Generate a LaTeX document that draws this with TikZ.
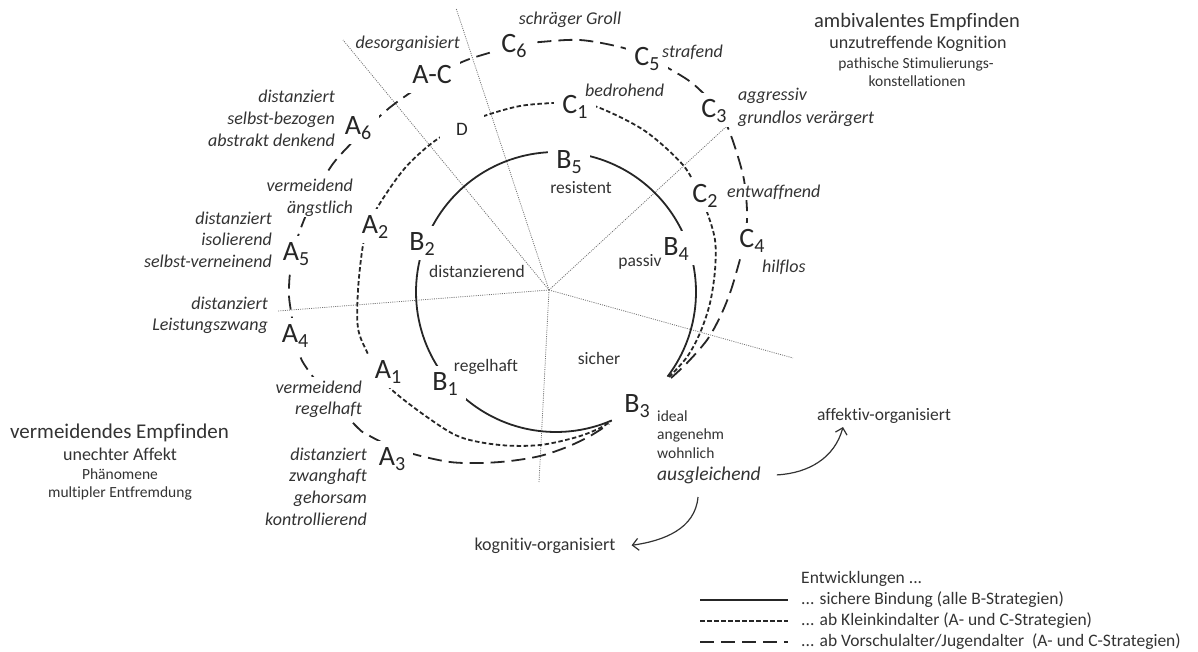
\documentclass[tikz,border=0pt]{standalone}
\usepackage{fontspec}
\setmainfont{Carlito}[Ligatures=NoCommon]
\usetikzlibrary{arrows.meta}
\newcommand{\lsub}[1]{\raisebox{-5pt}{\fontsize{20}{20}\selectfont #1}}
\begin{document}
\begin{tikzpicture}[x=1pt,y=-1pt,
  big/.style={font=\fontsize{28}{30}\selectfont, fill=white, inner xsep=8pt, inner ysep=3pt, text height=21pt, text depth=7pt, anchor=base, text=black!85},
  itl/.style={font=\fontsize{18}{21.7}\selectfont\itshape, fill=white, inner sep=1pt, text=black!80},
  itr/.style={itl, align=right, anchor=north east},
  lbl/.style={font=\fontsize{17.5}{21}\selectfont, fill=white, inner sep=1pt, text=black!80},
  head/.style={fill=white, inner sep=1pt, text=black!80, anchor=base},
  leg/.style={font=\fontsize{17.5}{21}\selectfont, inner sep=0pt, text=black!80, anchor=base west},
  ray/.style={black!55, line width=0.8pt, dash pattern=on 1pt off 1.2pt},
  solidB/.style={line width=1.8pt, black!85},
  shortD/.style={line width=1.8pt, black!85, dash pattern=on 4.5pt off 2.5pt},
  longD/.style={line width=1.8pt, black!85, dash pattern=on 14pt off 7pt},
  arr/.style={line width=1.2pt, black!80, -{Straight Barb[length=6pt,width=12pt]}},
]
\useasboundingbox (0,0) rectangle (1198,651);

% rays
\coordinate (O) at (549,290);
\coordinate (r1) at (343,40);
\coordinate (r2) at (456,8);
\coordinate (r3) at (728,125);
\coordinate (r4) at (278,311);
\coordinate (r5) at (539,482);
\coordinate (r6) at (793,358);
\foreach \r in {r1,r2,r3,r4,r5,r6} \draw[ray] (O) -- (\r);

% solid B circle
\draw[solidB] plot[domain=-37.2:293.5, samples=150, variable=\t] ({556+140*cos(\t)}, {292-140*sin(\t)});

% short dashed (Kleinkindalter)
\draw[shortD] plot[smooth, tension=0.55] coordinates {(669,377) (687,357) (700,333) (710,303) (715,270) (715,240) (707,212) (698,192) (683,165) (645,131) (600,108) (576,103) (553,103) (520,106) (487,115) (460,126) (432,143) (405,168) (382,200) (370,222) (363,245) (358,290) (358,328) (367,352) (378,372) (392,390) (427,417) (460,437) (500,445) (540,445) (577,437) (600,428) (611,421)};

% long dashed (Vorschulalter)
\draw[longD] plot[smooth, tension=0.55] coordinates {(671,378) (687,363) (707,340) (720,317) (730,293) (737,270) (741,255) (746,230) (747,210) (743,175) (728,128) (712,103) (692,83) (668,68) (645,56) (620,47) (580,40) (540,42) (515,45) (492,52) (462,62) (430,80) (393,105) (365,130) (343,152) (330,168) (315,195) (302,225) (294,250) (290,273) (289,290) (290,305) (298,350) (308,370) (332,400) (358,428) (368,435) (392,447) (417,455) (450,462) (480,463) (510,461) (540,456) (567,447) (590,436) (609,424)};

% big labels
\node[big] (nAC) at (432,83) {A-C};
\node[big] (nC6) at (514,52) {C\lsub{6}};
\node[big] (nC5) at (647,65) {C\lsub{5}};
\node[big] (nC1) at (575,113) {C\lsub{1}};
\node[big] (nC3) at (714,117) {C\lsub{3}};
\node[big] (nC2) at (705,202) {C\lsub{2}};
\node[big] (nC4) at (752,247) {C\lsub{4}};
\node[big] (nB5) at (569,168) {B\lsub{5}};
\node[big] (nB4) at (676,255) {B\lsub{4}};
\node[big] (nB2) at (422,250) {B\lsub{2}};
\node[big] (nB1) at (445,390) {B\lsub{1}};
\node[big] (nB3) at (637,412) {B\lsub{3}};
\node[big] (nA1) at (388,378) {A\lsub{1}};
\node[big] (nA2) at (375,233) {A\lsub{2}};
\node[big] (nA3) at (392,465) {A\lsub{3}};
\node[big] (nA4) at (295,342) {A\lsub{4}};
\node[big] (nA5) at (296,260) {A\lsub{5}};
\node[big] (nA6) at (358,134) {A\lsub{6}};
\node[big, font=\fontsize{19}{21}\selectfont, inner xsep=16pt, text height=20pt, text depth=6pt] (nD) at (462,135) {D};

% italic labels
\node[itl, anchor=base] (tGroll) at (570,24) {schräger Groll};
\node[itl, anchor=base east] (tDesorg) at (461,48) {desorganisiert};
\node[itl, anchor=base west] (tStraf) at (661,57) {strafend};
\node[itl, anchor=base west] (tBedroh) at (584,96) {bedrohend};
\node[itl, align=left, anchor=north west, font=\fontsize{18}{23}\selectfont\itshape] (tAggr) at (737,83) {\strut aggressiv\\grundlos verärgert};
\node[itl, anchor=base west] (tEntw) at (726,197) {entwaffnend};
\node[itl, anchor=base west] (tHilf) at (761,272) {hilflos};
\node[itr] (tA6) at (336,86.3) {\strut distanziert\\selbst-bezogen\\abstrakt denkend};
\node[itr] (tA2) at (354,175.3) {\strut vermeidend\\ängstlich};
\node[itr] (tA5) at (273,207.8) {\strut distanziert\\isolierend\\selbst-verneinend};
\node[itr] (tA4) at (269,292.8) {\strut distanziert\\Leistungszwang};
\node[itr] (tA1) at (363,376.8) {\strut vermeidend\\regelhaft};
\node[itr] (tA3) at (368,443.8) {\strut distanziert\\zwanghaft\\gehorsam\\kontrollierend};

% upright labels
\node[lbl, anchor=base] (tRes) at (581,193) {resistent};
\node[lbl, anchor=base] (tDistz) at (477,277) {distanzierend};
\node[lbl, anchor=base] (tPass) at (640,266) {passiv};
\node[lbl, anchor=base] (tRegel) at (486,371) {regelhaft};
\node[lbl, anchor=base] (tSicher) at (599,364) {sicher};
\node[lbl, font=\fontsize{15.5}{18.7}\selectfont, align=left, anchor=north west] (tIdeal) at (656,406.9) {\strut ideal\\angenehm\\wohnlich};
\node[itl, font=\fontsize{19.5}{22}\selectfont\itshape, anchor=base west] (tAusg) at (656,480) {ausgleichend};
\node[lbl, anchor=base] (tAff) at (884,420) {affektiv-organisiert};
\node[lbl, font=\fontsize{18}{21}\selectfont, anchor=base] (tKog) at (545,550) {kognitiv-organisiert};

% arrows (out/in are paper angles)
\coordinate (aAffEnd) at (843,427);
\coordinate (aKogStart) at (698,497);
\draw[arr] ([xshift=15pt]tAusg.east) to[out=3, in=255] (aAffEnd);
\draw[arr] (aKogStart) to[out=265, in=8] ([xshift=15pt]tKog.east);

% headings
\node[head, font=\fontsize{20.5}{24}\selectfont] (hR1) at (917,27) {ambivalentes Empfinden};
\node[head, font=\fontsize{18}{21}\selectfont] (hR2) at (918,48) {unzutreffende Kognition};
\node[head, font=\fontsize{15.5}{18}\selectfont] (hR3) at (916,68) {pathische Stimulierungs-};
\node[head, font=\fontsize{15.5}{18}\selectfont] (hR4) at (917,86) {konstellationen};
\node[head, font=\fontsize{21}{24}\selectfont] (hL1) at (119.5,438) {vermeidendes Empfinden};
\node[head, font=\fontsize{18}{21}\selectfont] (hL2) at (120,460) {unechter Affekt};
\node[head, font=\fontsize{15.5}{18}\selectfont] (hL3) at (120,479) {Phänomene};
\node[head, font=\fontsize{15.5}{18}\selectfont] (hL4) at (120,497) {multipler Entfremdung};

% legend
\node[leg] (lg0) at (801,583) {Entwicklungen ...};
\node[leg] (lg1) at (801,604) {... sichere Bindung (alle B-Strategien)};
\node[leg] (lg2) at (801,625) {... ab Kleinkindalter (A- und C-Strategien)};
\node[leg] (lg3) at (801,646) {... ab Vorschulalter/Jugendalter\ \ (A- und C-Strategien)};
\coordinate (l1a) at (700,600); \coordinate (l1b) at (788,600);
\coordinate (l2a) at (700,621); \coordinate (l2b) at (788,621);
\coordinate (l3a) at (700,642); \coordinate (l3b) at (788,642);
\draw[solidB, line width=1.4pt] (l1a) -- (l1b);
\draw[shortD, line width=1.4pt] (l2a) -- (l2b);
\draw[longD, line width=1.4pt] (l3a) -- (l3b);
\end{tikzpicture}
\end{document}
